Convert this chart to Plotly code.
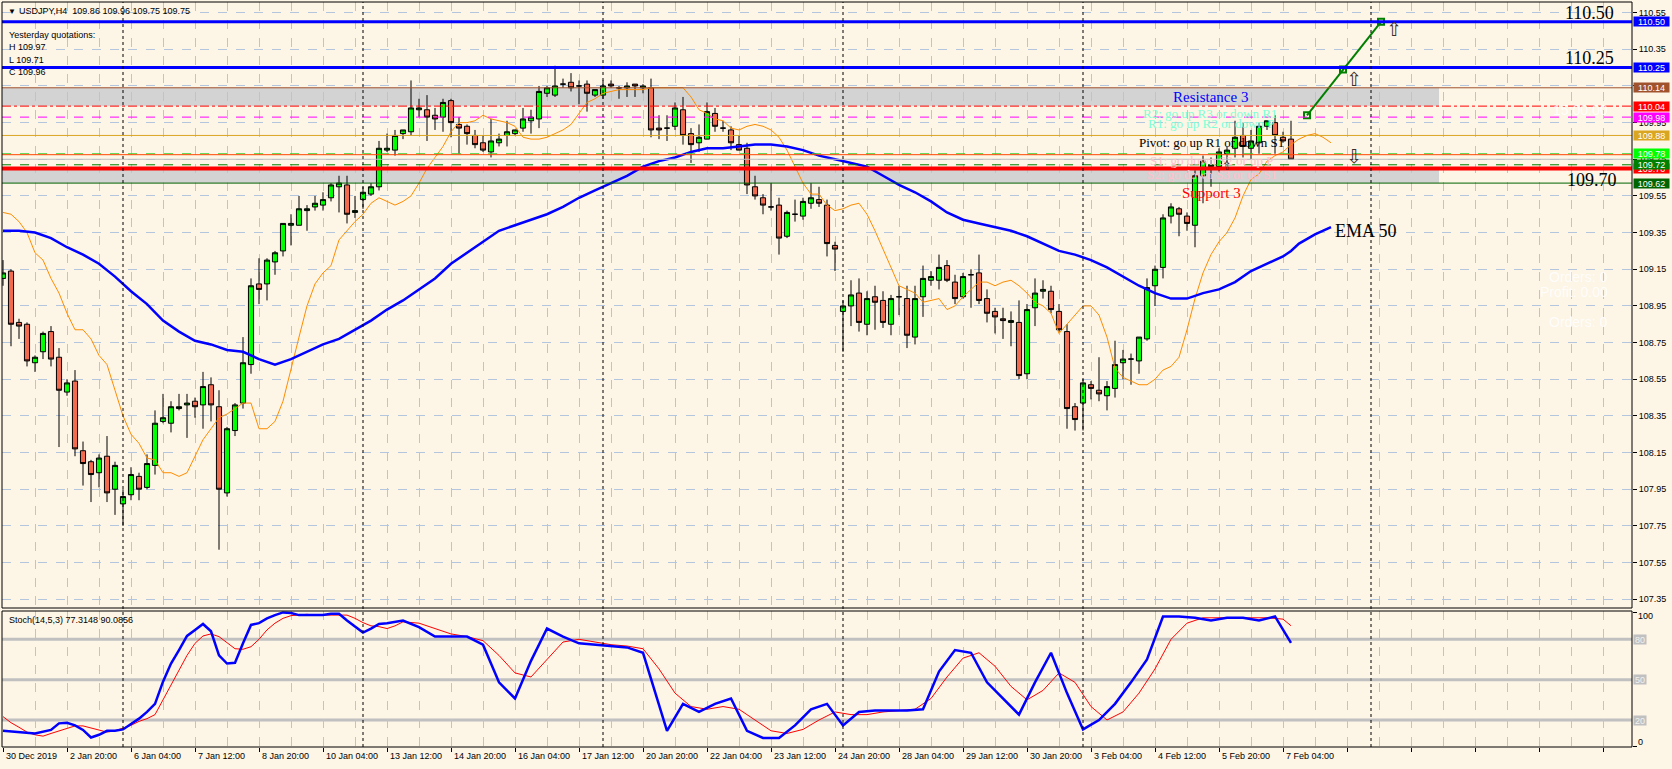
import plotly.graph_objects as go

# ---------------- data ----------------
opens = [109.10,109.14,108.86,108.85,108.64,108.70,108.81,108.67,108.48,108.54,
         108.16,108.10,108.04,108.13,107.95,107.87,107.92,108.02,107.96,108.08,
         108.32,108.31,108.39,108.41,108.43,108.41,108.52,108.40,107.93,108.27,
         108.42,108.63,109.07,109.07,109.19,109.25,109.39,109.39,109.47,109.49,
         109.50,109.54,109.60,109.61,109.46,109.53,109.56,109.60,109.80,109.80,
         109.89,109.90,110.02,110.02,109.99,109.98,110.07,109.94,109.93,109.88,
         109.84,109.79,109.84,109.88,109.89,109.92,109.96,109.97,110.11,110.10,
         110.16,110.17,110.15,110.16,110.10,110.10,110.16,110.14,110.14,110.16,
         110.14,110.14,109.92,109.92,109.93,110.02,109.89,109.84,109.86,110.00,
         109.92,109.91,109.83,109.81,109.60,109.54,109.49,109.50,109.33,109.45,
         109.44,109.51,109.53,109.50,109.28,108.92,108.95,109.02,108.85,109.00,
         108.98,108.85,109.00,108.99,108.78,109.00,109.09,109.09,109.17,109.08,
         109.00,109.12,109.13,108.99,108.92,108.88,108.86,108.86,108.58,108.94,
         109.03,109.03,108.92,108.81,108.40,108.42,108.52,108.49,108.46,108.50,
         108.64,108.66,108.65,108.77,109.06,109.16,109.44,109.48,109.44,109.39,
         109.66,109.71,109.71,109.78,109.81,109.88,109.81,109.84,109.93,109.95,
         109.87,109.86]
highs = [109.20,109.15,108.88,108.86,108.68,108.81,108.84,108.72,108.55,108.60,
         108.21,108.11,108.14,108.24,108.10,107.95,108.07,108.04,108.14,108.38,
         108.47,108.43,108.47,108.47,108.45,108.59,108.56,108.49,108.29,108.42,
         108.78,109.10,109.21,109.21,109.25,109.40,109.45,109.55,109.50,109.55,
         109.57,109.62,109.66,109.66,109.55,109.60,109.62,109.85,109.89,109.91,
         109.91,110.18,110.08,110.10,110.03,110.08,110.08,109.98,109.94,109.91,
         109.88,109.97,109.89,109.96,109.91,110.03,110.02,110.15,110.15,110.26,
         110.19,110.22,110.18,110.18,110.13,110.18,110.18,110.15,110.17,110.16,
         110.16,110.19,109.99,109.99,110.06,110.09,109.92,109.94,110.06,110.03,
         109.96,109.93,109.88,109.84,109.66,109.56,109.62,109.54,109.47,109.53,
         109.54,109.62,109.60,109.53,109.30,108.98,109.09,109.10,109.03,109.06,
         109.03,109.01,109.06,109.06,109.06,109.17,109.14,109.23,109.20,109.12,
         109.13,109.15,109.23,109.04,108.94,108.94,108.92,108.98,108.96,109.10,
         109.09,109.06,108.96,108.85,108.42,108.55,108.54,108.67,108.54,108.76,
         108.71,108.69,108.78,109.10,109.17,109.45,109.51,109.49,109.46,109.69,
         109.77,109.76,109.81,109.82,109.96,109.95,109.91,109.95,109.96,109.99,
         109.90,109.96]
lows = [109.06,108.73,108.77,108.62,108.59,108.66,108.62,108.18,108.46,108.13,
        107.97,107.88,107.96,107.88,107.81,107.75,107.89,107.89,107.95,108.03,
        108.31,108.26,108.38,108.23,108.34,108.28,108.32,107.62,107.91,108.24,
        108.39,108.58,108.96,108.98,109.12,109.22,109.28,109.39,109.36,109.47,
        109.47,109.52,109.46,109.40,109.43,109.48,109.55,109.58,109.79,109.77,
        109.86,109.88,109.98,109.85,109.91,109.90,109.87,109.78,109.83,109.81,
        109.79,109.76,109.82,109.82,109.88,109.90,109.89,109.92,110.09,110.09,
        110.14,110.12,110.05,110.01,110.09,110.08,110.14,110.08,110.09,110.09,
        110.11,109.87,109.86,109.85,109.91,109.83,109.73,109.79,109.86,109.90,
        109.90,109.80,109.80,109.56,109.53,109.45,109.47,109.23,109.32,109.41,
        109.42,109.48,109.49,109.22,109.14,108.70,108.84,108.81,108.79,108.82,
        108.83,108.79,108.90,108.72,108.74,108.89,109.06,109.04,109.08,108.96,
        108.99,108.94,108.96,108.86,108.80,108.77,108.73,108.55,108.55,108.84,
        108.99,108.91,108.81,108.28,108.27,108.27,108.44,108.43,108.38,108.45,
        108.55,108.52,108.58,108.76,108.95,109.10,109.40,109.33,109.36,109.27,
        109.51,109.60,109.68,109.73,109.76,109.76,109.75,109.78,109.91,109.78,
        109.84,109.75]
closes = [109.13,108.85,108.84,108.65,108.67,108.80,108.66,108.49,108.53,108.17,
          108.09,108.03,108.12,107.93,108.08,107.91,108.03,107.95,108.09,108.31,
          108.34,108.40,108.40,108.42,108.40,108.51,108.41,107.95,108.28,108.41,
          108.64,109.06,109.04,109.20,109.24,109.40,109.40,109.48,109.48,109.51,
          109.53,109.61,109.62,109.45,109.47,109.57,109.60,109.81,109.81,109.88,
          109.91,110.03,110.03,109.98,109.97,110.06,109.95,109.92,109.89,109.83,
          109.80,109.85,109.86,109.90,109.91,109.97,109.98,110.12,110.14,110.15,
          110.16,110.14,110.15,110.11,110.13,110.15,110.15,110.14,110.15,110.15,
          110.15,109.91,109.91,109.92,110.03,109.88,109.83,109.87,110.01,109.93,
          109.92,109.84,109.80,109.61,109.55,109.50,109.49,109.32,109.46,109.45,
          109.52,109.54,109.51,109.29,109.26,108.95,109.01,108.86,108.99,108.97,
          108.86,108.99,109.00,108.79,108.99,109.10,109.11,109.16,109.09,108.99,
          109.11,109.12,108.98,108.91,108.89,108.87,108.87,108.57,108.93,109.02,
          109.04,108.93,108.82,108.39,108.33,108.53,108.50,108.47,108.51,108.63,
          108.66,108.66,108.78,109.05,109.15,109.43,109.49,109.45,109.40,109.66,
          109.74,109.72,109.79,109.80,109.87,109.82,109.85,109.93,109.96,109.88,
          109.85,109.75]

x_tick_labels = ["30 Dec 2019", "2 Jan 20:00", "6 Jan 04:00", "7 Jan 12:00", "8 Jan 20:00",
                 "10 Jan 04:00", "13 Jan 12:00", "14 Jan 20:00", "16 Jan 04:00", "17 Jan 12:00",
                 "20 Jan 20:00", "22 Jan 04:00", "23 Jan 12:00", "24 Jan 20:00", "28 Jan 04:00",
                 "29 Jan 12:00", "30 Jan 20:00", "3 Feb 04:00", "4 Feb 12:00", "5 Feb 20:00",
                 "7 Feb 04:00"]
x_tick_bars = list(range(0, 161, 8))

ema_x = list(range(0, 161, 2)) + [161, 162, 164, 166]
ema_vals = [109.36,109.36,109.35,109.32,109.27,109.23,109.18,109.11,109.03,108.96,
            108.87,108.81,108.76,108.74,108.71,108.70,108.66,108.63,108.66,108.70,
            108.74,108.77,108.82,108.87,108.93,108.98,109.04,109.10,109.18,109.24,
            109.30,109.36,109.39,109.42,109.45,109.49,109.54,109.58,109.62,109.66,
            109.71,109.74,109.76,109.79,109.81,109.81,109.82,109.83,109.83,109.82,
            109.80,109.77,109.75,109.73,109.71,109.66,109.61,109.57,109.52,109.46,
            109.42,109.40,109.38,109.36,109.33,109.29,109.25,109.23,109.20,109.16,
            109.11,109.06,109.02,108.99,108.99,109.02,109.04,109.08,109.14,109.18,
            109.22,109.25,109.29,109.34,109.38]

ma_x = list(range(0, 167))
ma_vals = [109.46,109.45,109.41,109.35,109.24,109.20,109.10,109.02,108.91,108.82,
           108.82,108.77,108.68,108.63,108.49,108.35,108.25,108.20,108.12,108.11,
           108.04,108.04,108.02,108.04,108.13,108.22,108.28,108.34,108.36,108.39,
           108.42,108.42,108.28,108.28,108.32,108.43,108.61,108.78,108.95,109.07,
           109.13,109.17,109.31,109.36,109.41,109.45,109.51,109.54,109.52,109.50,
           109.52,109.55,109.62,109.70,109.76,109.82,109.90,109.95,109.95,109.96,
           109.99,109.97,109.96,109.95,109.93,109.87,109.86,109.86,109.87,109.89,
           109.91,109.94,110.00,110.06,110.08,110.11,110.12,110.13,110.13,110.13,
           110.13,110.14,110.14,110.14,110.14,110.14,110.09,110.02,110.00,109.97,
           109.96,109.92,109.91,109.93,109.94,109.93,109.91,109.87,109.80,109.71,
           109.62,109.56,109.56,109.50,109.47,109.48,109.50,109.51,109.45,109.36,
           109.26,109.16,109.06,109.04,109.02,108.97,108.98,108.99,108.93,108.95,
           109.00,109.04,109.08,109.08,109.06,109.08,109.09,109.06,109.02,108.97,
           108.95,108.91,108.80,108.85,108.90,108.95,108.95,108.90,108.78,108.61,
           108.56,108.54,108.52,108.52,108.55,108.60,108.62,108.67,108.82,108.99,
           109.13,109.23,109.30,109.35,109.43,109.55,109.64,109.67,109.74,109.77,
           109.79,109.83,109.86,109.88,109.89,109.87,109.84]

stoch_k_x = [0, 2, 4, 6] + list(range(7, 50)) + list(range(50, 83, 2)) + [83] + list(range(85, 162, 2))
stoch_k = [12, 11, 10, 12.6,
           17.5, 18, 16, 12.6, 7, 9, 12, 12, 13, 17, 21, 26, 32, 48.5, 62, 72, 82.5, 87, 91.4, 86,
           68, 62, 62.6, 77, 90.7, 92, 95.6, 98, 100, 99.5, 98, 98, 98, 98, 99, 99, 94, 89.4, 85,
           88, 91.4, 92, 93,
           94, 89, 82, 82, 82, 76, 48, 36, 64, 88, 82, 77, 76, 75, 74, 70, 32,
           12,
           32, 26, 32, 36, 12, 6.7, 6.7, 16, 28, 32, 16, 26, 27, 27, 27, 28, 56, 72, 70, 48, 36,
           24, 48, 70, 40, 13, 20, 32, 48, 65, 97, 97, 96, 94, 96, 96, 94, 97, 77.31]
stoch_d_x = list(range(0, 50)) + list(range(50, 161, 2)) + [161]
stoch_d = [22.5, 18, 14.6, 11, 9, 8, 10, 12, 14, 15.6, 15.6, 14, 12.6, 11, 12, 14, 16, 19, 21, 24,
           35, 46, 57, 68, 77, 82.5, 84, 82, 77.5, 73, 72.6, 74.5, 80, 87, 92, 95.6, 97.6, 98, 98.6,
           98, 98, 98, 98, 98, 95.6, 92.4, 90, 89.4, 88, 90,
           93, 92, 88, 84, 82, 79, 68, 55, 52, 65, 78, 80, 78, 76, 75, 73, 58, 40, 30, 28, 30, 28,
           20, 12, 10, 13, 20, 26, 24, 24, 26, 27, 28, 36, 52, 66, 70, 60, 45, 35, 42, 55, 48, 30,
           20, 26, 40, 58, 80, 92, 96, 96, 96, 96, 96, 95,
           90.09]

# horizontal levels (price values)
lvl_blue = [110.50, 110.25]
lvl_r3_zone = (110.04, 110.14)
lvl_s3_zone = (109.62, 109.70)
week_sep_bars = [15, 45, 75, 105, 135, 171]
trend_x = [163, 167.5, 172.25]
trend_y = [109.99, 110.24, 110.50]

header = "USDJPY,H4  109.86 109.96 109.75 109.75"
yesterday = ["Yesterday quotations:", "H 109.97", "L 109.71", "C 109.96"]
stoch_title = "Stoch(14,5,3) 77.3148 90.0856"
faint_texts = ["15:00:00", "Orders: 0", "Profit: 0.00", "Orders: 0"]

# ---------------- geometry ----------------
W, H = 1672, 769
ML, MR, MT, MB = 2, 40, 2, 22
PW, PH = W - ML - MR, H - MT - MB
def fx(px):
    return (px - ML) / PW
def fy(py):
    return (H - MB - py) / PH

main_dom = [fy(608), 1.0]
sto_dom = [0.0, fy(611)]
X_RANGE = [-0.125, -0.125 + PW / 8.0]
Y_RANGE = [107.302, 110.608]
S_RANGE = [-0.07, 101.05]

BG = "#FDF5E6"
GRID = "#B4C6DE"
TXT = "Liberation Sans"
SERIF = "Liberation Serif"

fig = go.Figure()

fig.add_trace(go.Candlestick(
    x=list(range(len(opens))), open=opens, high=highs, low=lows, close=closes,
    increasing=dict(line=dict(color="black", width=1), fillcolor="#00FF00"),
    decreasing=dict(line=dict(color="black", width=1), fillcolor="#F26B4E"),
    whiskerwidth=0, xaxis="x", yaxis="y", hoverinfo="skip", showlegend=False))

fig.add_trace(go.Scatter(x=ma_x, y=ma_vals, mode="lines", line=dict(color="#FF8C00", width=1),
                         xaxis="x", yaxis="y", showlegend=False, hoverinfo="skip"))
fig.add_trace(go.Scatter(x=ema_x, y=ema_vals, mode="lines", line=dict(color="#0000FF", width=2.5),
                         xaxis="x", yaxis="y", showlegend=False, hoverinfo="skip"))
fig.add_trace(go.Scatter(x=trend_x, y=trend_y, mode="lines+markers",
                         line=dict(color="#008000", width=2),
                         marker=dict(symbol="square-open", size=6, color="#008000", line=dict(width=2)),
                         xaxis="x", yaxis="y", showlegend=False, hoverinfo="skip"))

fig.add_trace(go.Scatter(x=stoch_d_x, y=stoch_d, mode="lines", line=dict(color="#FF0000", width=1),
                         xaxis="x", yaxis="y2", showlegend=False, hoverinfo="skip"))
fig.add_trace(go.Scatter(x=stoch_k_x, y=stoch_k, mode="lines", line=dict(color="#0000FF", width=2.5),
                         xaxis="x", yaxis="y2", showlegend=False, hoverinfo="skip"))

shapes = []
for lo, hi in [lvl_r3_zone, lvl_s3_zone]:
    shapes.append(dict(type="rect", xref="x", yref="y", x0=X_RANGE[0], x1=179.5, y0=lo, y1=hi,
                       fillcolor="#D3D3D3", line=dict(width=0), layer="below"))

def hline(y, color, width, dash="solid"):
    shapes.append(dict(type="line", xref="paper", yref="y", x0=0, x1=1, y0=y, y1=y,
                       line=dict(color=color, width=width, dash=dash)))

hline(110.14, "#A0522D", 1)
hline(110.04, "#FF0000", 1, "dashdot")
hline(109.98, "#FF00FF", 1, "dash")
hline(109.88, "#DAA520", 1)
hline(109.78, "#32CD32", 1, "dash")
hline(109.775, "#FF4500", 1)
hline(109.75, "#C0C0C0", 1)
hline(109.72, "#008000", 1, "dash")
hline(109.62, "#006400", 1)
hline(109.70, "#FF0000", 4)
for v in lvl_blue:
    hline(v, "#0000FF", 3)

for b in week_sep_bars:
    shapes.append(dict(type="line", xref="x", yref="paper", x0=b, x1=b, y0=0, y1=1,
                       line=dict(color="black", width=1, dash="3px,3px")))
for v in [80, 50, 20]:
    shapes.append(dict(type="line", xref="paper", yref="y2", x0=0, x1=1, y0=v, y1=v,
                       line=dict(color="#C0C0C0", width=3), layer="below"))
for d in (main_dom, sto_dom):
    shapes.append(dict(type="rect", xref="paper", yref="paper", x0=0, x1=1, y0=d[0], y1=d[1],
                       line=dict(color="black", width=1), fillcolor="rgba(0,0,0,0)"))

ann = []
def ptext(px, py, text, size=9, color="black", font=TXT, xanchor="left"):
    ann.append(dict(xref="paper", yref="paper", x=fx(px), y=fy(py), text=text, showarrow=False,
                    xanchor=xanchor, yanchor="middle", font=dict(family=font, size=size, color=color)))

ptext(6, 11, "▼", size=8)
ptext(17, 11, header)
for k, t in enumerate(yesterday):
    ptext(7, [35, 47, 60, 72][k], t)
ptext(7, 620, stoch_title)
# nearly invisible white status texts
for t, py in zip(faint_texts, [110, 277, 292, 322]):
    ptext(1610, py, t, size=14, color="rgba(255,255,255,0.85)", xanchor="right")

for b, t in zip(x_tick_bars, x_tick_labels):
    ann.append(dict(xref="x", yref="paper", x=b, y=fy(756), text=t, showarrow=False,
                    xanchor="left", yanchor="middle", xshift=1,
                    font=dict(family=TXT, size=9, color="black")))

def pbox(price, color, yref="y", text=None, tcolor="white", width=35):
    ann.append(dict(xref="paper", yref=yref, x=1, y=price, xanchor="left", yanchor="middle", xshift=1,
                    text=text if text is not None else f"{price:.2f}", showarrow=False,
                    bgcolor=color, width=width, height=9, borderpad=0,
                    font=dict(family=TXT, size=9, color=tcolor)))

pbox(110.50, "#0000FF")
pbox(110.25, "#0000FF")
pbox(110.14, "#A0522D")
pbox(110.04, "#FF0000")
pbox(109.98, "#FF00FF")
pbox(109.88, "#DAA520")
pbox(109.78, "#00FF00")
pbox(109.70, "#FF0000")
pbox(109.72, "#008000")
pbox(109.62, "#006400")
for v in [80, 50, 20]:
    pbox(v, "#C0C0C0", yref="y2", text=str(v), tcolor="#F2F2F2", width=12)
ann.append(dict(xref="paper", yref="y2", x=1, y=100, xanchor="left", yanchor="middle", xshift=4, yshift=-4,
                text="100", showarrow=False, font=dict(family=TXT, size=9, color="black")))
ann.append(dict(xref="paper", yref="y2", x=1, y=0, xanchor="left", yanchor="middle", xshift=4, yshift=5,
                text="0", showarrow=False, font=dict(family=TXT, size=9, color="black")))

def dtext(x, y, text, size, color, xanchor="center", font=SERIF):
    ann.append(dict(xref="x", yref="y", x=x, y=y, text=text, showarrow=False, xanchor=xanchor,
                    yanchor="middle", font=dict(family=font, size=size, color=color)))

dtext(201.6, 110.548, "110.50", 18, "black", xanchor="right")
dtext(201.6, 110.30, "110.25", 18, "black", xanchor="right")
dtext(202.0, 109.637, "109.70", 18, "black", xanchor="right")
dtext(166.2, 109.359, "EMA 50", 18, "black", xanchor="left")
dtext(150.9, 110.088, "Resistance 3", 15, "#0000FF")
dtext(150.9, 110.001, "R2: go up R3 or down R1", 13, "#7FFFD4")
dtext(151.0, 109.946, "R1: go up R2 or down P", 13, "#7FFFD4")
dtext(151.0, 109.843, "Pivot: go up R1 or down S1", 13, "black")
dtext(151.1, 109.742, "S1: go down S2 or up P", 13, "#FFC0CB")
dtext(151.1, 109.668, "S2: go down S3 or up S1", 13, "#FFC0CB")
dtext(151.0, 109.565, "Support 3", 15, "#FF0000")
dtext(173.9, 110.46, "⇧", 19, "#3A2E2E", font="DejaVu Sans")
dtext(168.9, 110.19, "⇧", 19, "#3A2E2E", font="DejaVu Sans")
dtext(168.9, 109.77, "⇩", 19, "#3A2E2E", font="DejaVu Sans")
dtext(153.0, 109.716, "⇧", 12, "#3A2E2E", font="DejaVu Sans")

fig.update_layout(
    width=W, height=H, margin=dict(l=ML, r=MR, t=MT, b=MB, autoexpand=False),
    paper_bgcolor=BG, plot_bgcolor=BG, showlegend=False,
    boxgap=0.25, boxgroupgap=0.15,
    shapes=shapes, annotations=ann,
    xaxis=dict(domain=[0, 1], anchor="y2", range=X_RANGE, tickmode="linear", tick0=0, dtick=8,
               ticks="outside", ticklen=4, tickcolor="black", showticklabels=False,
               showgrid=True, gridcolor=GRID, griddash="dash", gridwidth=1, zeroline=False,
               minor=dict(tick0=0, dtick=4, showgrid=True, gridcolor=GRID, griddash="dash", ticks=""),
               rangeslider=dict(visible=False), showline=False, fixedrange=True),
    yaxis=dict(domain=main_dom, anchor="x", range=Y_RANGE, side="right", tickmode="linear",
               tick0=107.35, dtick=0.2, tickformat=".2f", ticks="outside", ticklen=4, tickcolor="black",
               tickfont=dict(family=TXT, size=9, color="black"),
               showgrid=True, gridcolor=GRID, griddash="dash", zeroline=False, showline=False),
    yaxis2=dict(domain=sto_dom, anchor="x", range=S_RANGE, side="right", tickmode="array",
                tickvals=[0, 100], ticks="outside", ticklen=4, tickcolor="black", showticklabels=False,
                showgrid=False, zeroline=False, showline=False),
)

fig.write_html("out.html", config={"displayModeBar": False, "staticPlot": True},
               post_script="document.body.style.margin='0';document.body.style.padding='0';"
                           "document.body.style.overflow='hidden';document.body.style.background='#FDF5E6';")
